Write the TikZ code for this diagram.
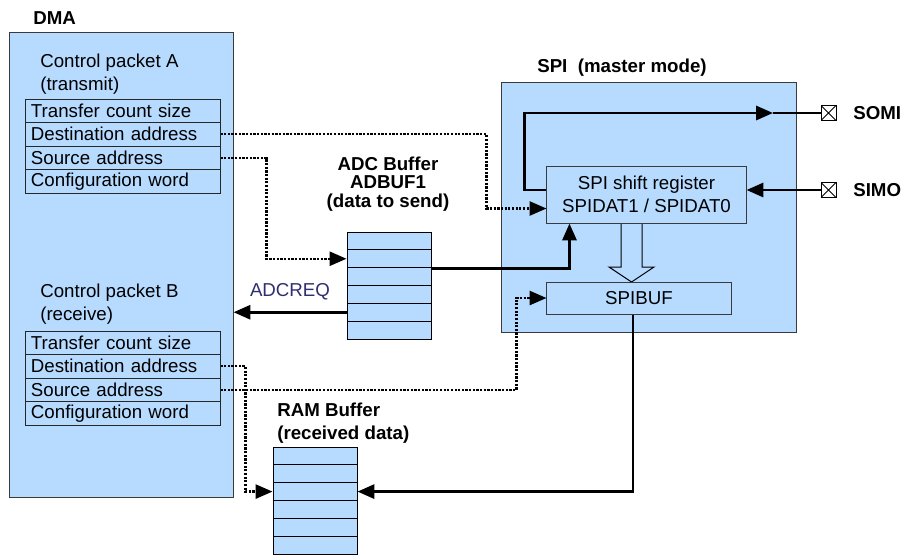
\documentclass[tikz,border=0pt]{standalone}
\usepackage{fontspec}
\setmainfont{Liberation Sans}
\usetikzlibrary{arrows.meta,calc}
\definecolor{boxblue}{HTML}{B6DBFF}
\definecolor{reqblue}{HTML}{2E2E70}
\definecolor{edgegrey}{HTML}{3A3A3A}
\newcommand\figfont{\fontsize{13.3}{16.3}\selectfont}
\tikzset{panel/.style = {draw=edgegrey,fill=boxblue,line width=0.7pt,inner sep=0pt},
  cell/.style = {draw=black!85,fill=boxblue,line width=0.7pt,text width=4.6cm,
    inner xsep=0.125cm,inner ysep=0pt,minimum height=0.5875cm,align=left},
  slot/.style = {draw=black,fill=boxblue,line width=0.7pt,minimum width=2.1cm,
    minimum height=0.446cm,inner sep=0pt},
  note/.style = {inner sep=0pt,align=left},
  lbl/.style = {inner sep=0pt,font=\figfont\bfseries},
  sig/.style = {line width=2pt},
  ptr/.style = {line width=1.6pt,densely dotted},
  tip/.style = {-{Triangle[length=12pt,width=10pt]}},
  pin/.style = {draw,fill=white,line width=0.6pt,minimum size=0.375cm,inner sep=0pt,
    path picture={\draw (path picture bounding box.south west) -- (path picture bounding box.north east)
      (path picture bounding box.north west) -- (path picture bounding box.south east);}}}

\begin{document}
\begin{tikzpicture}[x=0.025cm,y=-0.025cm,font=\figfont]
  \useasboundingbox (0,0) rectangle (905,555);

  % DMA with its two control packets
  \node [panel, minimum width=5.575cm, minimum height=11.6cm] (dma) at (121.5,265) {};
  \node [lbl, anchor=west] (dmaname) at (33,18) {DMA};
  \node [note, anchor=west] (pktA) at (40,74) {Control packet A\\(transmit)};
  \node [cell] (cntA) at (123,110.75) {Transfer count size};
  \node [cell] (dstA) at (123,134.25) {Destination address};
  \node [cell] (srcA) at (123,157.75) {Source address};
  \node [cell] (cfgA) at (123,181.25) {Configuration word};
  \node [note, anchor=west] (pktB) at (40,304) {Control packet B\\(receive)};
  \node [cell] (cntB) at (123,342.75) {Transfer count size};
  \node [cell] (dstB) at (123,366.25) {Destination address};
  \node [cell] (srcB) at (123,389.75) {Source address};
  \node [cell] (cfgB) at (123,413.25) {Configuration word};

  % buffers
  \node [lbl, align=center, font=\fontsize{13.3}{13.2}\selectfont\bfseries] (adcname) at (388,184)
    {ADC Buffer\\ADBUF1\\(data to send)};
  \foreach \i in {1,...,6}
    \node [slot] (adc\i) at (389,{223.08+17.83*\i}) {};
  \node [lbl, align=left, anchor=west] (ramname) at (277,423) {RAM Buffer\\(received data)};
  \foreach \i in {1,...,6}
    \node [slot] (ram\i) at (315,{438.08+17.83*\i}) {};

  % SPI
  \node [panel, minimum width=7.35cm, minimum height=6.225cm] (spi) at (649,207.5) {};
  \node [lbl, anchor=west] (spiname) at (537,68) {SPI\ \ (master mode)};
  \draw [fill=boxblue, line width=0.7pt] (621,223) -- (621,267) -- (609,267) -- (631.5,282)
    -- (654,267) -- (642,267) -- (642,223);
  \node [panel, minimum width=4.975cm, minimum height=1.425cm, align=center] (shreg) at (646.5,194.5)
    {SPI shift register\\SPIDAT1 / SPIDAT0};
  \node [panel, minimum width=4.6cm, minimum height=0.8cm] (spibuf) at (639,298) {SPIBUF};

  % pins
  \node [pin] (somi) at (828.5,113) {};
  \node [lbl, anchor=west] (sominame) at (853,113) {SOMI};
  \node [pin] (simo) at (828.5,190) {};
  \node [lbl, anchor=west] (siminame) at (853,190) {SIMO};
  \coordinate (somiarr) at (773,113);

  % data paths
  \draw [sig, tip] (shreg.west |- simo) -- ++(-22,0) |- (somiarr);
  \draw [sig] (somiarr) -- (somi.west);
  \draw [sig, tip] (simo.west) -- (simo.west -| shreg.east);
  \draw [sig, tip] (adc2.south east) -| ($(shreg.south west)+(23,0)$);
  \draw [sig, tip] (adc5.west) -- (adc5.west -| dma.east)
    node [midway, above=4pt, text=reqblue] {ADCREQ};
  \draw [sig, tip] ($(spibuf.south)+(-6,0)$) |- (ram3.east);

  % address pointers
  \draw [ptr, tip] (dstA.east) -| ($(shreg.south west)+(-60,-15)$) -- ($(shreg.south west)+(0,-15)$);
  \draw [ptr, tip] (srcA.east) -| ($(adc2.west)+(-80,0)$) -- (adc2.west);
  \draw [ptr, tip] (srcB.east) -| ($(spibuf.west)+(-30,0)$) -- (spibuf.west);
  \draw [ptr, tip] (dstB.east) -| ($(ram3.west)+(-27,0)$) -- (ram3.west);
\end{tikzpicture}
\end{document}
